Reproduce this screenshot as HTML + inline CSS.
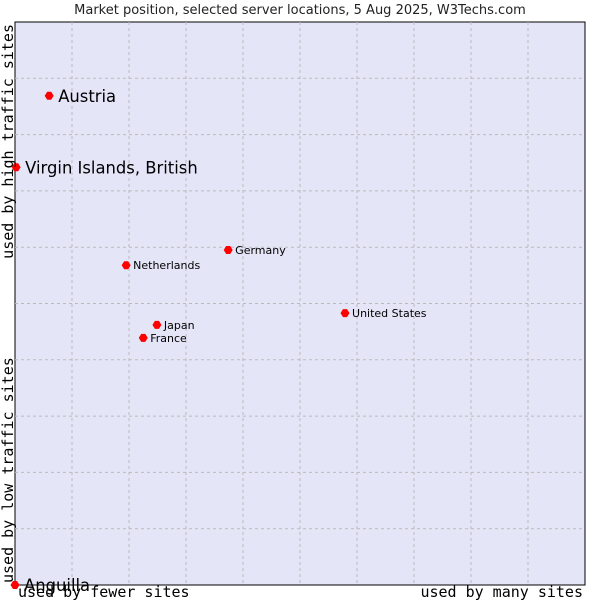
<!DOCTYPE html>
<html><head><meta charset="utf-8"><style>
body{margin:0;background:#fff}
svg{display:block}
</style></head><body>
<svg id="c" width="600" height="600" xmlns="http://www.w3.org/2000/svg">
<text x="300" y="14" text-anchor="middle" font-family="DejaVu Sans, sans-serif" font-size="13" fill="#222">Market position, selected server locations, 5 Aug 2025, W3Techs.com</text>
<rect x="15" y="22" width="570" height="563" fill="#e4e6f8" stroke="#000" stroke-width="1"/>
<g id="grid"></g>
<g id="pts"></g>
<text x="18" y="597" font-family="DejaVu Sans Mono, monospace" font-size="15" fill="#000">used by fewer sites</text>
<text x="583" y="597" text-anchor="end" font-family="DejaVu Sans Mono, monospace" font-size="15" fill="#000">used by many sites</text>
<text transform="translate(13,583) rotate(-90)" font-family="DejaVu Sans Mono, monospace" font-size="15" fill="#000">used by low traffic sites</text>
<text transform="translate(13,24) rotate(-90)" text-anchor="end" font-family="DejaVu Sans Mono, monospace" font-size="15" fill="#000">used by high traffic sites</text>
</svg>
<script>
const names=["Austria","Virgin Islands, British","Germany","Netherlands","United States","Japan","France","Anguilla"];
const xVals=[6.0,0.2,37.4,19.5,57.9,24.9,22.5,0];
const yVals=[86.9,74.2,59.5,56.8,48.3,46.2,43.9,0];
const bigLabel=[true,true,false,false,false,false,false,true];
const NS="http://www.w3.org/2000/svg";
const L=15,R=585,T=22,B=585;
const sx=v=>L+v/100*(R-L), sy=v=>B-v/100*(B-T);
const g=document.getElementById('grid');
for(let i=1;i<10;i++){
  let l=document.createElementNS(NS,'line');
  l.setAttribute('x1',sx(i*10));l.setAttribute('x2',sx(i*10));l.setAttribute('y1',T);l.setAttribute('y2',B);
  l.setAttribute('stroke','#bbb');l.setAttribute('stroke-dasharray','3,3');
  
  
  g.appendChild(l);
  let h=document.createElementNS(NS,'line');
  h.setAttribute('y1',sy(i*10));h.setAttribute('y2',sy(i*10));h.setAttribute('x1',L);h.setAttribute('x2',R);
  h.setAttribute('stroke','#bbb');h.setAttribute('stroke-dasharray','3,3');
  
  
  g.appendChild(h);
}
const p=document.getElementById('pts');
names.forEach((n,i)=>{
  const x=sx(xVals[i]),y=sy(yVals[i]);
  const d=document.createElementNS(NS,'path');
  d.setAttribute('d',`M${x-4.5},${y}L${x-2},${y-4}L${x+2},${y-4}L${x+4.5},${y}L${x+2},${y+4}L${x-2},${y+4}Z`);
  d.setAttribute('fill','#f00');
  
  
  p.appendChild(d);
  const t=document.createElementNS(NS,'text');
  t.setAttribute('x',x+(bigLabel[i]?9:7));
  t.setAttribute('y',y+(bigLabel[i]?6:4));
  t.setAttribute('font-family','DejaVu Sans, sans-serif');
  t.setAttribute('font-size',bigLabel[i]?'16.4':'11');
  t.setAttribute('fill','#000');
  t.textContent=n;
  
  
  p.appendChild(t);
});
</script>
</body></html>
